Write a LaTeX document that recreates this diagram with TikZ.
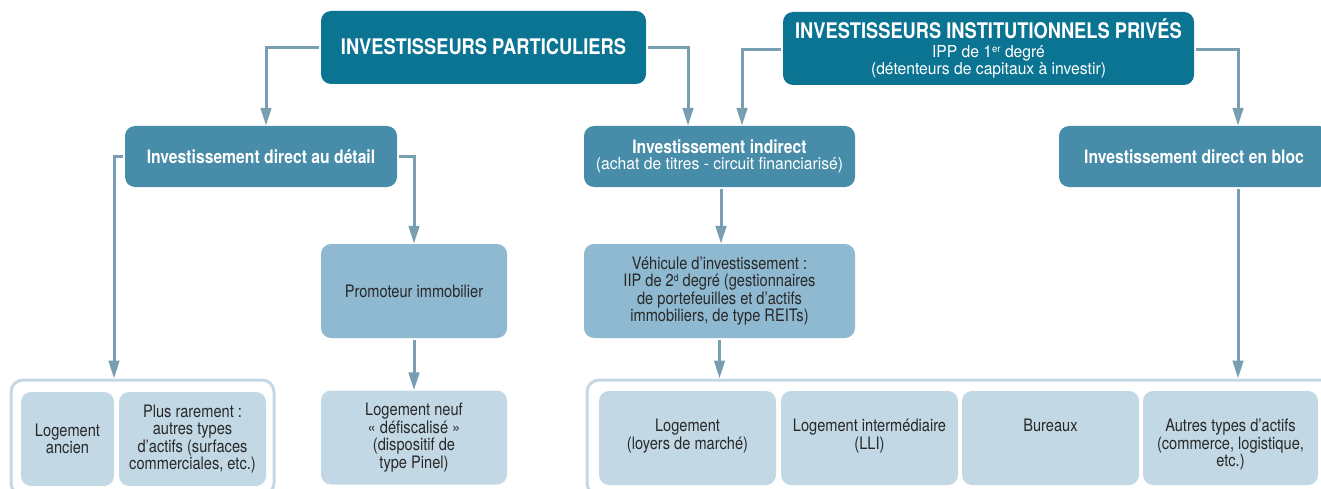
\documentclass[tikz,border=0pt]{standalone}
\usepackage{fontspec}
\setmainfont{TeX Gyre Heros}[FakeStretch=0.85]
\newfontfamily\subfont{TeX Gyre Heros}[FakeStretch=0.95]
\usetikzlibrary{arrows.meta}
\definecolor{cdark}{RGB}{11,116,146}
\definecolor{cmid}{RGB}{71,140,168}
\definecolor{clight}{RGB}{143,185,208}
\definecolor{cpale}{RGB}{194,217,229}
\definecolor{carrow}{RGB}{120,158,178}
\definecolor{ctext}{RGB}{40,40,40}
\newcommand{\supsm}[1]{\raisebox{5pt}{\fontsize{10}{10}\selectfont #1}}
\begin{document}
\begin{tikzpicture}[x=1pt,y=-1pt,
  box/.style={rounded corners=10pt, inner sep=0pt, align=center, draw=none},
  topbox/.style={box, fill=cdark, text=white},
  midbox/.style={box, fill=cmid, text=white, font=\fontsize{18.5}{16}\selectfont\bfseries, minimum height=61pt},
  lightbox/.style={box, fill=clight, text=ctext, font=\fontsize{17.2}{17.5}\selectfont, minimum height=94pt},
  palebox/.style={box, fill=cpale, text=ctext, font=\fontsize{17.2}{17.5}\selectfont, minimum height=94pt},
  frame/.style={draw=cpale, line width=3pt, rounded corners=12pt, fill=white, inner sep=0pt},
  lbl/.style={inner sep=0pt, align=center, text=ctext, font=\fontsize{17.2}{17.5}\selectfont},
  arr/.style={draw=carrow, line width=3pt, -{Triangle[length=18pt,width=10.5pt]}, shorten <=2pt},
]
\useasboundingbox (0,0) rectangle (1321,489);
\clip (0,0) rectangle (1321,489);

% top boxes
\node[topbox, minimum width=325pt, minimum height=73pt,
      font=\fontsize{21.5}{22}\selectfont\bfseries] (part) at (483.5,47.5)
      {\raisebox{2pt}{INVESTISSEURS PARTICULIERS}};
\node[topbox, minimum width=411pt, minimum height=73pt,
      font=\fontsize{16.5}{17}\subfont] (iip) at (988.5,48.5)
      {{\rmfamily\fontsize{21.5}{17}\selectfont\bfseries INVESTISSEURS INSTITUTIONNELS PRIVÉS}\\[1.5pt]
       IPP de 1\supsm{er} degré\\
       (détenteurs de capitaux à investir)};

% middle boxes
\node[midbox, minimum width=272pt] (detail) at (261,156.5) {Investissement direct au détail};
\node[midbox, minimum width=271pt] (indirect) at (719.5,156.5)
      {Investissement indirect\\{\subfont\mdseries\fontsize{16.5}{16}\selectfont (achat de titres - circuit financiarisé)}};
\node[midbox, minimum width=270pt] (bloc) at (1194,156.5) {Investissement direct en bloc};

% light boxes
\node[lightbox, minimum width=186pt] (promo) at (414,291) {Promoteur immobilier};
\node[lightbox, minimum width=271pt] (vehic) at (719.5,291)
      {Véhicule d’investissement :\\IIP de 2\supsm{d} degré (gestionnaires\\de portefeuilles et d’actifs\\immobiliers, de type REITs)};

% frames
\node[frame, minimum width=263pt, minimum height=115pt] (lframe) at (142.5,437.5) {};
\node[frame, minimum width=760pt, minimum height=115pt] (rframe) at (967,437.5) {};

% pale boxes
\node[palebox, minimum width=93pt] (ancien) at (67.5,439) {Logement\\ancien};
\node[palebox, minimum width=147pt] (rare) at (192.5,439)
      {Plus rarement :\\autres types\\d’actifs (surfaces\\commerciales, etc.)};
\node[palebox, minimum width=186pt] (neuf) at (414,437.5)
      {Logement neuf\\« défiscalisé »\\(dispositif de\\type Pinel)};
\node[palebox, minimum width=177pt] (loge) at (687.5,438) {};
\node[palebox, minimum width=177pt] (lli) at (869.5,438) {};
\node[palebox, minimum width=177pt] (bur) at (1050.5,438) {};
\node[palebox, minimum width=175pt] (autres) at (1230.5,438) {};
\node[lbl, anchor=north] (logeT) at (687.5,419) {Logement\\(loyers de marché)};
\node[lbl, anchor=north] (lliT) at (869.5,419) {Logement intermédiaire\\(LLI)};
\node[lbl, anchor=north] (burT) at (1050.5,419) {Bureaux};
\node[lbl, anchor=north] (autresT) at (1230.5,419) {Autres types d’actifs\\(commerce, logistique,\\etc.)};

% connectors
\draw[arr] (part.west) -| ([xshift=5pt]detail.north);
\draw[arr] (part.east) -| ([xshift=-31.5pt]indirect.north);
\draw[arr] ([yshift=-1pt]iip.west) -| ([xshift=22.5pt]indirect.north);
\draw[arr] ([yshift=-1pt]iip.east) -| ([xshift=44pt]bloc.north);
\draw[arr] (detail.west) -| ([xshift=-28.5pt]lframe.north);
\draw[arr] (detail.east) -| (promo.north);
\draw[arr] (promo.south) -- (neuf.north);
\draw[arr] ([xshift=1.5pt]indirect.south) -- ([xshift=1.5pt]vehic.north);
\draw[arr] (vehic.south) -- (vehic.south |- rframe.north);
\draw[arr] ([xshift=44pt]bloc.south) -- ([xshift=44pt]bloc.south |- rframe.north);
\end{tikzpicture}
\end{document}
